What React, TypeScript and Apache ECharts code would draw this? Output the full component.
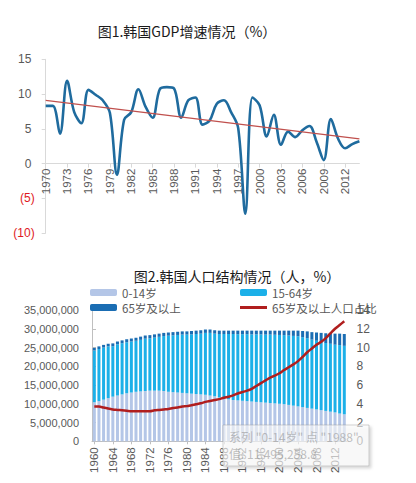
import React, { useEffect, useRef } from 'react';
import * as echarts from 'echarts';

// ---- Chart 1: Korea GDP growth (%) ----
const gdpYears = ['1970','1971','1972','1973','1974','1975','1976','1977','1978','1979','1980','1981','1982','1983','1984','1985','1986','1987','1988','1989','1990','1991','1992','1993','1994','1995','1996','1997','1998','1999','2000','2001','2002','2003','2004','2005','2006','2007','2008','2009','2010','2011','2012','2013','2014'];
const gdpGrowth = [8.3,8.3,4.3,11.9,7.4,5.8,10.6,9.9,9.1,7.3,-1.6,6.3,7.4,10.7,8.2,6.6,10.7,11.0,10.8,6.6,9.1,9.5,5.6,6.2,8.6,9.1,7.4,5.1,-7.2,9.5,8.4,3.9,7.0,2.7,4.6,3.8,4.8,5.4,3.1,0.5,6.4,3.6,2.2,2.8,3.2];
const gdpTrend = [9.1,null,null,null,null,null,null,null,null,null,null,null,null,null,null,null,null,null,null,null,null,null,null,null,null,null,null,null,null,null,null,null,null,null,null,null,null,null,null,null,null,null,null,null,3.55];

// ---- Chart 2: Korea population structure (millions of people, %) ----
const popYears = ['1960','1961','1962','1963','1964','1965','1966','1967','1968','1969','1970','1971','1972','1973','1974','1975','1976','1977','1978','1979','1980','1981','1982','1983','1984','1985','1986','1987','1988','1989','1990','1991','1992','1993','1994','1995','1996','1997','1998','1999','2000','2001','2002','2003','2004','2005','2006','2007','2008','2009','2010','2011','2012','2013','2014'];
const age0to14 = [10.4,10.7,11.1,11.5,11.9,12.2,12.5,12.8,13.0,13.2,13.3,13.4,13.5,13.5,13.5,13.4,13.2,13.1,13.0,12.9,12.8,12.7,12.6,12.5,12.4,12.2,12.0,11.7,11.5,11.2,11.0,10.9,10.8,10.7,10.6,10.5,10.4,10.3,10.2,10.1,10.0,9.9,9.7,9.5,9.3,9.1,8.9,8.7,8.5,8.3,8.1,7.9,7.7,7.4,7.2];
const age15to64 = [13.8,13.9,13.9,13.8,13.45,13.65,13.65,13.6,13.6,13.6,13.75,13.95,13.95,14.15,14.35,14.65,14.95,15.15,15.35,15.55,15.65,15.8,16.0,16.2,16.5,16.7,16.7,16.9,17.1,17.4,17.6,17.65,17.75,17.85,17.9,18.0,18.1,18.15,18.25,18.3,18.35,18.4,18.5,18.6,18.7,18.65,18.6,18.4,18.3,18.2,18.1,18.1,18.05,18.25,18.25];
const age65plus = [0.7,0.7,0.7,0.7,0.75,0.75,0.75,0.8,0.8,0.8,0.85,0.85,0.85,0.85,0.85,0.85,0.85,0.85,0.85,0.85,0.85,0.9,0.9,0.9,0.9,0.9,0.9,0.9,0.9,0.9,0.9,0.95,0.95,0.95,1.0,1.0,1.0,1.05,1.05,1.1,1.15,1.2,1.3,1.4,1.5,1.65,1.8,2.0,2.2,2.4,2.6,2.8,2.95,3.05,3.15];
const share65plus = [3.7,3.7,3.6,3.5,3.4,3.35,3.3,3.25,3.2,3.2,3.2,3.2,3.2,3.3,3.35,3.4,3.45,3.55,3.6,3.7,3.75,3.85,3.95,4.05,4.2,4.3,4.4,4.5,4.65,4.75,4.9,5.1,5.25,5.4,5.6,5.9,6.2,6.5,6.8,7.0,7.25,7.6,7.9,8.2,8.55,9.0,9.5,9.9,10.3,10.6,11.0,11.5,12.0,12.4,12.8];

const NUM_FONT = 'Liberation Sans';
const CJK_FONT = 'Noto Sans CJK SC';
const LABEL_COLOR = '#595959';

const G1 = { left: 45.7, top: 59.3, width: 313.7, height: 173.8 };

export default function App() {
  const ref = useRef<HTMLDivElement>(null);
  useEffect(() => {
    if (!ref.current) return;
    const chart = echarts.init(ref.current, undefined, { renderer: 'svg' });
    const legendBase = {
      padding: 0,
      itemWidth: 27,
      itemHeight: 7,
      textStyle: { color: LABEL_COLOR, fontSize: 11.5, lineHeight: 12, fontFamily: CJK_FONT },
    };
    chart.setOption({
      animation: false,
      backgroundColor: '#ffffff',
      title: [
        {
          text: '图1.韩国GDP增速情况（%）',
          left: 187, top: 24, padding: 0, textAlign: 'center',
          textStyle: { fontFamily: CJK_FONT, fontSize: 14, lineHeight: 14, fontWeight: 'normal', color: '#1a1a1a' },
        },
        {
          text: '图2.韩国人口结构情况（人，%）',
          left: 237, top: 269, padding: 0, textAlign: 'center',
          textStyle: { fontFamily: CJK_FONT, fontSize: 14, lineHeight: 14, fontWeight: 'normal', color: '#1a1a1a' },
        },
      ],
      legend: [
        { ...legendBase, data: ['0-14岁'], left: 90, top: 286.5 },
        { ...legendBase, data: ['15-64岁'], left: 240, top: 286.5 },
        { ...legendBase, data: ['65岁及以上'], left: 90, top: 301.5 },
        { ...legendBase, data: [{ name: '65岁及以上人口占比', icon: 'rect' }], itemHeight: 3, left: 240, top: 301.5 },
      ],
      grid: [
        G1,
        { left: 92, top: 310, width: 254.6, height: 131.3 },
      ],
      xAxis: [
        {
          type: 'category', gridIndex: 0, data: gdpYears, boundaryGap: false,
          offset: -G1.height * (10 / 25),
          axisLine: { onZero: false, lineStyle: { color: '#d9d9d9' } },
          axisTick: { show: true, interval: 2, length: 4, lineStyle: { color: '#d9d9d9' } },
          axisLabel: { interval: 2, rotate: 90, margin: 5, fontSize: 11.5, color: LABEL_COLOR, fontFamily: NUM_FONT },
          splitLine: { show: false },
        },
        {
          type: 'category', gridIndex: 1, data: popYears, boundaryGap: true,
          axisLine: { lineStyle: { color: '#bfbfbf' } },
          axisTick: { show: true, interval: 3, alignWithLabel: true, length: 3, lineStyle: { color: '#bfbfbf' } },
          axisLabel: { interval: 3, rotate: 90, margin: 6, fontSize: 11.5, color: LABEL_COLOR, fontFamily: NUM_FONT },
          splitLine: { show: false },
        },
      ],
      yAxis: [
        {
          type: 'value', gridIndex: 0, min: -10, max: 15, interval: 5,
          axisLine: { show: true, lineStyle: { color: '#d9d9d9' } },
          axisTick: { show: true, length: 4, lineStyle: { color: '#d9d9d9' } },
          splitLine: { show: false },
          axisLabel: {
            margin: 11, fontSize: 12, fontFamily: NUM_FONT,
            color: (v: any) => (Number(v) < 0 ? '#e0191e' : LABEL_COLOR),
            formatter: (v: number) => (v < 0 ? `(${-v})` : `${v} `),
          },
        },
        {
          type: 'value', gridIndex: 1, min: 0, max: 35, interval: 5,
          axisLine: { show: true, lineStyle: { color: '#bfbfbf' } },
          axisTick: { show: true, inside: true, length: 4, lineStyle: { color: '#bfbfbf' } },
          splitLine: { show: false },
          axisLabel: {
            margin: 13, fontSize: 11, fontFamily: NUM_FONT, color: LABEL_COLOR,
            formatter: (v: number) => Math.round(v * 1000000).toLocaleString('en-US'),
          },
        },
        {
          type: 'value', gridIndex: 1, position: 'right', min: 0, max: 14, interval: 2,
          axisLine: { show: false }, axisTick: { show: false }, splitLine: { show: false },
          axisLabel: { margin: 10, fontSize: 12, fontFamily: NUM_FONT, color: LABEL_COLOR },
        },
      ],
      series: [
        {
          name: 'GDP增速', type: 'line', xAxisIndex: 0, yAxisIndex: 0, data: gdpGrowth,
          smooth: 0.35, symbol: 'none',
          lineStyle: { color: '#1f6b9e', width: 2.6 },
          itemStyle: { color: '#1f6b9e' },
        },
        {
          name: '趋势线', type: 'line', xAxisIndex: 0, yAxisIndex: 0, data: gdpTrend,
          connectNulls: true, symbol: 'none',
          lineStyle: { color: '#c0504d', width: 1.2 },
          itemStyle: { color: '#c0504d' },
          z: 3,
        },
        {
          name: '0-14岁', type: 'bar', xAxisIndex: 1, yAxisIndex: 1, stack: 'pop', data: age0to14,
          barCategoryGap: '35%', itemStyle: { color: '#b4c6e7' },
        },
        {
          name: '15-64岁', type: 'bar', xAxisIndex: 1, yAxisIndex: 1, stack: 'pop', data: age15to64,
          barCategoryGap: '35%', itemStyle: { color: '#1cb0e8' },
        },
        {
          name: '65岁及以上', type: 'bar', xAxisIndex: 1, yAxisIndex: 1, stack: 'pop', data: age65plus,
          barCategoryGap: '35%', itemStyle: { color: '#1a6db3' },
        },
        {
          name: '65岁及以上人口占比', type: 'line', xAxisIndex: 1, yAxisIndex: 2, data: share65plus,
          smooth: 0.3, symbol: 'none',
          lineStyle: { color: '#b01e1e', width: 2.5 },
          itemStyle: { color: '#b01e1e' },
          z: 5,
        },
      ],
      graphic: [
        {
          type: 'rect', z: 100,
          shape: { x: 223, y: 425, width: 146, height: 41 },
          style: {
            fill: 'rgba(255,255,255,0.6)', stroke: 'rgba(150,150,150,0.45)', lineWidth: 1,
            shadowBlur: 3, shadowOffsetX: 2, shadowOffsetY: 2, shadowColor: 'rgba(0,0,0,0.25)',
          },
        },
        {
          type: 'text', z: 101, x: 229, y: 430,
          style: { text: '系列 "0-14岁" 点 "1988"', fill: 'rgba(140,140,140,0.55)', font: `12px "${CJK_FONT}"` },
        },
        {
          type: 'text', z: 101, x: 229, y: 447,
          style: { text: '值: 11,495,258.8', fill: 'rgba(140,140,140,0.55)', font: `12px "${CJK_FONT}"` },
        },
      ],
    });
    return () => chart.dispose();
  }, []);
  return <div ref={ref} style={{ position: 'fixed', left: 0, top: 0, width: 416, height: 483 }} />;
}
